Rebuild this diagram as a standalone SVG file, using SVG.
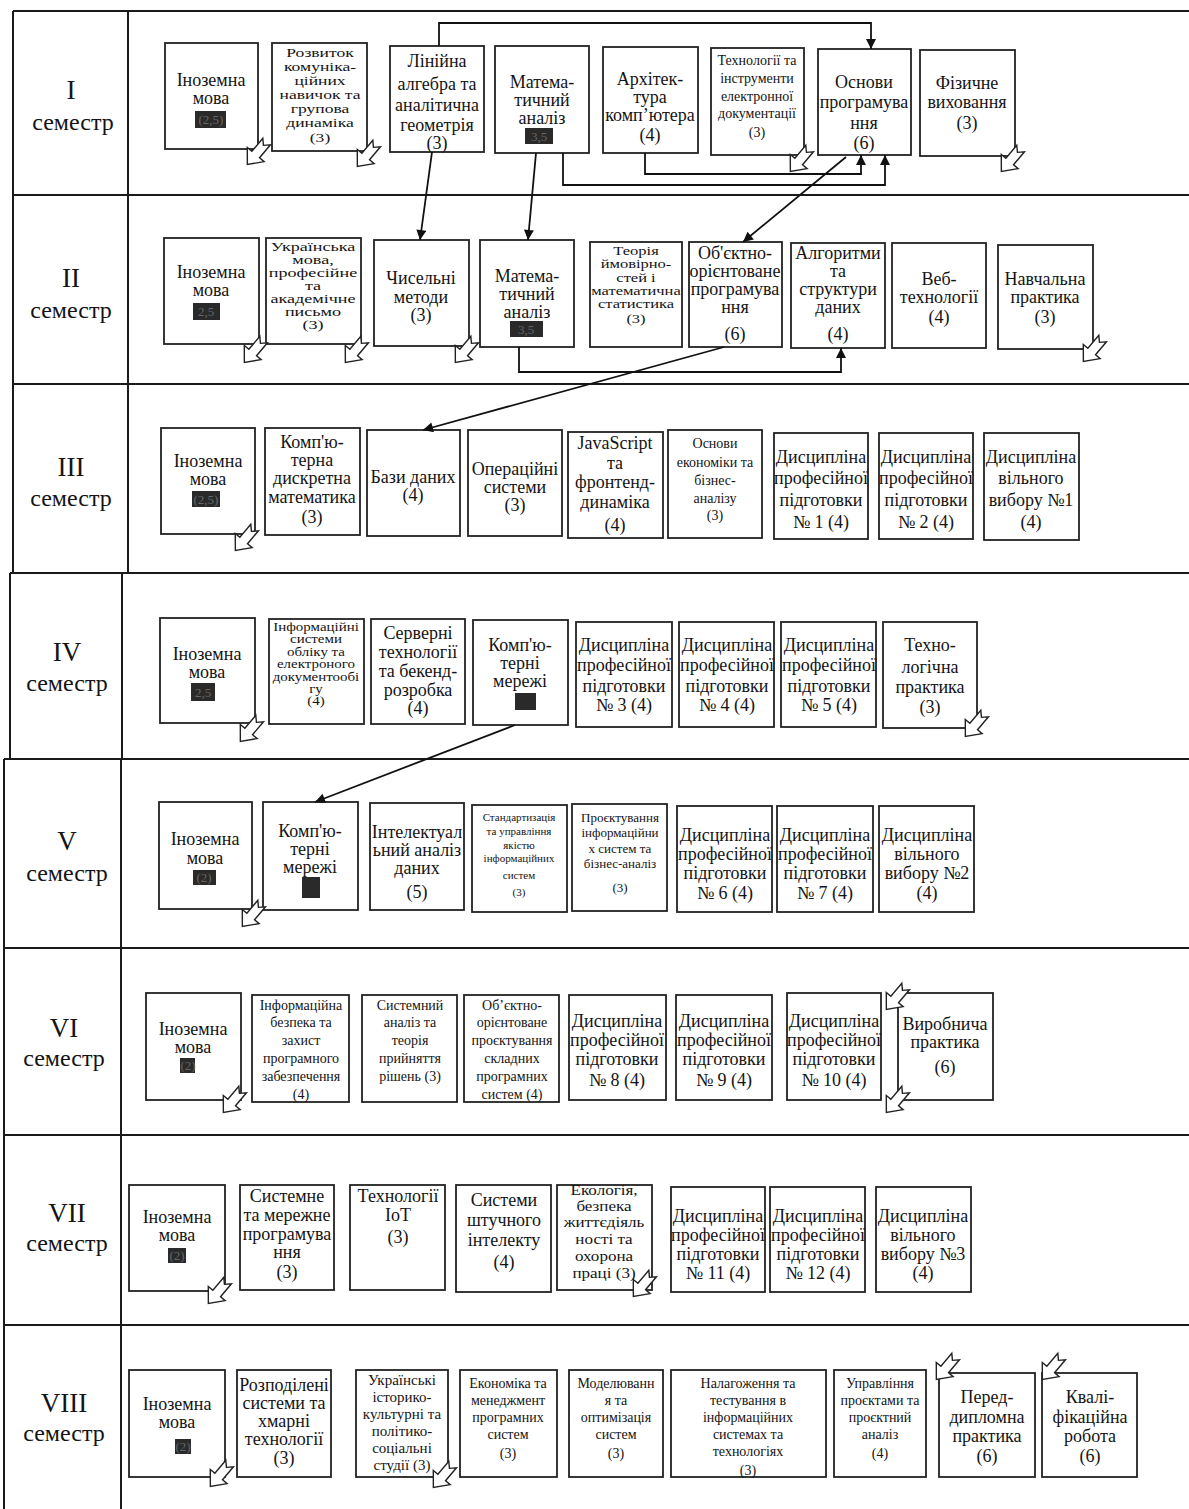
<svg xmlns="http://www.w3.org/2000/svg" width="1189" height="1509" viewBox="0 0 1189 1509">
<style>
.grid{fill:none;stroke:#1a1a1a;stroke-width:2}
.box{fill:#fff;stroke:#222;stroke-width:1.8}
text{font-family:"Liberation Serif","Times New Roman",serif;fill:#141414;text-anchor:middle}
.f18{font-size:18px}.f17{font-size:16.5px}.f15{font-size:15px}.f14{font-size:14px}.f13{font-size:13px}.f11{font-size:11px}
.sem{font-size:24px}.num{font-size:27px}
.bd{fill:#2a2a2a}.bt{fill:#666;font-size:13px}
.con{fill:none;stroke:#111;stroke-width:1.8}
.ca{fill:#fff;stroke:#222;stroke-width:1.4;stroke-linejoin:miter}
</style>
<defs>
<marker id="ah" viewBox="0 0 10 10" refX="10" refY="5" markerWidth="12" markerHeight="10" markerUnits="userSpaceOnUse" orient="auto"><path d="M0,0 L10,5 L0,10 Z" fill="#111"/></marker>
<path id="carrow" class="ca" d="M-5,-15 L0,-10 L5,-15 L5,2 L11,2 L0,15 L-11,2 L-5,2 Z"/>
</defs>

<g id="table">
<line class="grid" x1="13" y1="11" x2="1189" y2="11"/>
<line class="grid" x1="13" y1="195" x2="1189" y2="195"/>
<line class="grid" x1="13" y1="384" x2="1189" y2="384"/>
<line class="grid" x1="10" y1="573" x2="1189" y2="573"/>
<line class="grid" x1="4" y1="759" x2="1189" y2="759"/>
<line class="grid" x1="4" y1="948" x2="1189" y2="948"/>
<line class="grid" x1="4" y1="1135" x2="1189" y2="1135"/>
<line class="grid" x1="4" y1="1325" x2="1189" y2="1325"/>
<line class="grid" x1="13" y1="11" x2="13" y2="573"/>
<line class="grid" x1="10" y1="573" x2="10" y2="759"/>
<line class="grid" x1="4" y1="759" x2="4" y2="1509"/>
<line class="grid" x1="128" y1="11" x2="128" y2="573"/>
<line class="grid" x1="122" y1="573" x2="122" y2="759"/>
<line class="grid" x1="121" y1="759" x2="121" y2="1509"/>
</g>

<g id="labels">
<text class="num" x="71" y="99">I</text><text class="sem" x="73" y="130">семестр</text>
<text class="num" x="71" y="287">II</text><text class="sem" x="71" y="318">семестр</text>
<text class="num" x="71" y="476">III</text><text class="sem" x="71" y="506">семестр</text>
<text class="num" x="67" y="661">IV</text><text class="sem" x="67" y="691">семестр</text>
<text class="num" x="67" y="850">V</text><text class="sem" x="67" y="881">семестр</text>
<text class="num" x="64" y="1037">VI</text><text class="sem" x="64" y="1066">семестр</text>
<text class="num" x="67" y="1222">VII</text><text class="sem" x="67" y="1251">семестр</text>
<text class="num" x="64" y="1412">VIII</text><text class="sem" x="64" y="1441">семестр</text>
</g>

<!-- Semester I -->
<g id="s1-1"><rect class="box" x="165" y="43" width="93" height="106"/><text class="f18"><tspan x="211" y="86">Іноземна</tspan><tspan x="211" y="104">мова</tspan></text><rect class="bd" x="195" y="111" width="31" height="17"/><text class="bt" x="211" y="124">(2,5)</text></g>
<g id="s1-2"><rect class="box" x="272" y="43" width="95" height="108"/><text style="font-size:13.5px" transform="translate(320,0) scale(1.3,1)"><tspan x="0" y="57">Розвиток</tspan><tspan x="0" y="71">комуніка-</tspan><tspan x="0" y="85">ційних</tspan><tspan x="0" y="99">навичок та</tspan><tspan x="0" y="113">групова</tspan><tspan x="0" y="127">динаміка</tspan><tspan x="0" y="142">(3)</tspan></text></g>
<g id="s1-3"><rect class="box" x="390" y="46" width="94" height="106"/><text class="f18"><tspan x="437" y="67">Лінійна</tspan><tspan x="437" y="90">алгебра та</tspan><tspan x="437" y="111">аналітична</tspan><tspan x="437" y="131">геометрія</tspan><tspan x="437" y="149">(3)</tspan></text></g>
<g id="s1-4"><rect class="box" x="495" y="46" width="94" height="107"/><text class="f18"><tspan x="542" y="88">Матема-</tspan><tspan x="542" y="106">тичний</tspan><tspan x="542" y="124">аналіз</tspan></text><rect class="bd" x="525" y="128" width="28" height="16"/><text class="bt" x="539" y="141">3,5</text></g>
<g id="s1-5"><rect class="box" x="603" y="47" width="95" height="106"/><text class="f18"><tspan x="650" y="85">Архітек-</tspan><tspan x="650" y="103">тура</tspan><tspan x="650" y="121">комп’ютера</tspan><tspan x="650" y="141">(4)</tspan></text></g>
<g id="s1-6"><rect class="box" x="711" y="48" width="93" height="107"/><text class="f14"><tspan x="757" y="65">Технології та</tspan><tspan x="757" y="83">інструменти</tspan><tspan x="757" y="101">електронної</tspan><tspan x="757" y="118">документації</tspan><tspan x="757" y="137">(3)</tspan></text></g>
<g id="s1-7"><rect class="box" x="818" y="49" width="93" height="106"/><text class="f18"><tspan x="864" y="88">Основи</tspan><tspan x="864" y="108">програмува</tspan><tspan x="864" y="129">ння</tspan><tspan x="864" y="149">(6)</tspan></text></g>
<g id="s1-8"><rect class="box" x="920" y="50" width="95" height="106"/><text class="f18"><tspan x="967" y="89">Фізичне</tspan><tspan x="967" y="108">виховання</tspan><tspan x="967" y="129">(3)</tspan></text></g>

<!-- Semester II -->
<g id="s2-1"><rect class="box" x="164" y="238" width="95" height="106"/><text class="f18"><tspan x="211" y="278">Іноземна</tspan><tspan x="211" y="296">мова</tspan></text><rect class="bd" x="193" y="303" width="27" height="17"/><text class="bt" x="206" y="316">2,5</text></g>
<g id="s2-2"><rect class="box" x="266" y="238" width="95" height="106"/><text style="font-size:12.5px" transform="translate(313,0) scale(1.45,1)"><tspan x="0" y="251">Українська</tspan><tspan x="0" y="264">мова,</tspan><tspan x="0" y="277">професійне</tspan><tspan x="0" y="290">та</tspan><tspan x="0" y="303">академічне</tspan><tspan x="0" y="316">письмо</tspan><tspan x="0" y="329">(3)</tspan></text></g>
<g id="s2-3"><rect class="box" x="374" y="240" width="95" height="106"/><text class="f18"><tspan x="421" y="284">Чисельні</tspan><tspan x="421" y="303">методи</tspan><tspan x="421" y="321">(3)</tspan></text></g>
<g id="s2-4"><rect class="box" x="480" y="240" width="94" height="107"/><text class="f18"><tspan x="527" y="282">Матема-</tspan><tspan x="527" y="300">тичний</tspan><tspan x="527" y="318">аналіз</tspan></text><rect class="bd" x="510" y="321" width="33" height="16"/><text class="bt" x="526" y="334">3,5</text></g>
<g id="s2-5"><rect class="box" x="590" y="242" width="92" height="105"/><text style="font-size:13px" transform="translate(636,0) scale(1.27,1)"><tspan x="0" y="255">Теорія</tspan><tspan x="0" y="268">ймовірно-</tspan><tspan x="0" y="282">стей і</tspan><tspan x="0" y="295">математична</tspan><tspan x="0" y="308">статистика</tspan><tspan x="0" y="323">(3)</tspan></text></g>
<g id="s2-6"><rect class="box" x="689" y="242" width="93" height="105"/><text class="f18"><tspan x="735" y="259">Об'єктно-</tspan><tspan x="735" y="277">орієнтоване</tspan><tspan x="735" y="295">програмува</tspan><tspan x="735" y="313">ння</tspan><tspan x="735" y="340">(6)</tspan></text></g>
<g id="s2-7"><rect class="box" x="791" y="243" width="94" height="105"/><text class="f18"><tspan x="838" y="259">Алгоритми</tspan><tspan x="838" y="277">та</tspan><tspan x="838" y="295">структури</tspan><tspan x="838" y="313">даних</tspan><tspan x="838" y="340">(4)</tspan></text></g>
<g id="s2-8"><rect class="box" x="892" y="243" width="94" height="105"/><text class="f18"><tspan x="939" y="285">Веб-</tspan><tspan x="939" y="303">технології</tspan><tspan x="939" y="323">(4)</tspan></text></g>
<g id="s2-9"><rect class="box" x="998" y="245" width="95" height="104"/><text class="f18"><tspan x="1045" y="285">Навчальна</tspan><tspan x="1045" y="303">практика</tspan><tspan x="1045" y="323">(3)</tspan></text></g>

<!-- Semester III -->
<g id="s3-1"><rect class="box" x="161" y="428" width="94" height="106"/><text class="f18"><tspan x="208" y="467">Іноземна</tspan><tspan x="208" y="485">мова</tspan></text><rect class="bd" x="192" y="491" width="28" height="16"/><text class="bt" x="206" y="504">(2,5)</text></g>
<g id="s3-2"><rect class="box" x="265" y="428" width="95" height="107"/><text class="f18"><tspan x="312" y="448">Комп'ю-</tspan><tspan x="312" y="466">терна</tspan><tspan x="312" y="484">дискретна</tspan><tspan x="312" y="503">математика</tspan><tspan x="312" y="523">(3)</tspan></text></g>
<g id="s3-3"><rect class="box" x="367" y="430" width="93" height="106"/><text class="f18"><tspan x="413" y="483">Бази даних</tspan><tspan x="413" y="501">(4)</tspan></text></g>
<g id="s3-4"><rect class="box" x="468" y="430" width="94" height="106"/><text class="f18"><tspan x="515" y="475">Операційні</tspan><tspan x="515" y="493">системи</tspan><tspan x="515" y="511">(3)</tspan></text></g>
<g id="s3-5"><rect class="box" x="568" y="432" width="95" height="106"/><text class="f18"><tspan x="615" y="449">JavaScript</tspan><tspan x="615" y="469">та</tspan><tspan x="615" y="488">фронтенд-</tspan><tspan x="615" y="508">динаміка</tspan><tspan x="615" y="531">(4)</tspan></text></g>
<g id="s3-6"><rect class="box" x="668" y="430" width="94" height="108"/><text class="f14"><tspan x="715" y="448">Основи</tspan><tspan x="715" y="467">економіки та</tspan><tspan x="715" y="485">бізнес-</tspan><tspan x="715" y="503">аналізу</tspan><tspan x="715" y="520">(3)</tspan></text></g>
<g id="s3-7"><rect class="box" x="774" y="433" width="94" height="106"/><text class="f18"><tspan x="821" y="463">Дисципліна</tspan><tspan x="821" y="484">професійної</tspan><tspan x="821" y="506">підготовки</tspan><tspan x="821" y="528">№ 1 (4)</tspan></text></g>
<g id="s3-8"><rect class="box" x="879" y="433" width="94" height="106"/><text class="f18"><tspan x="926" y="463">Дисципліна</tspan><tspan x="926" y="484">професійної</tspan><tspan x="926" y="506">підготовки</tspan><tspan x="926" y="528">№ 2 (4)</tspan></text></g>
<g id="s3-9"><rect class="box" x="984" y="433" width="95" height="107"/><text class="f18"><tspan x="1031" y="463">Дисципліна</tspan><tspan x="1031" y="484">вільного</tspan><tspan x="1031" y="506">вибору №1</tspan><tspan x="1031" y="528">(4)</tspan></text></g>

<!-- Semester IV -->
<g id="s4-1"><rect class="box" x="160" y="618" width="95" height="105"/><text class="f18"><tspan x="207" y="660">Іноземна</tspan><tspan x="207" y="678">мова</tspan></text><rect class="bd" x="191" y="683" width="24" height="18"/><text class="bt" x="203" y="697">2,5</text></g>
<g id="s4-2"><rect class="box" x="269" y="619" width="95" height="105"/><text style="font-size:11.5px" transform="translate(316,0) scale(1.3,1)"><tspan x="0" y="631">Інформаційні</tspan><tspan x="0" y="643">системи</tspan><tspan x="0" y="656">обліку та</tspan><tspan x="0" y="668">електроного</tspan><tspan x="0" y="681">документообі</tspan><tspan x="0" y="693">гу</tspan><tspan x="0" y="705">(4)</tspan></text></g>
<g id="s4-3"><rect class="box" x="371" y="619" width="94" height="105"/><text class="f18"><tspan x="418" y="639">Серверні</tspan><tspan x="418" y="658">технології</tspan><tspan x="418" y="677">та бекенд-</tspan><tspan x="418" y="696">розробка</tspan><tspan x="418" y="714">(4)</tspan></text></g>
<g id="s4-4"><rect class="box" x="473" y="620" width="95" height="105"/><text class="f18"><tspan x="520" y="651">Комп'ю-</tspan><tspan x="520" y="669">терні</tspan><tspan x="520" y="687">мережі</tspan></text><rect class="bd" x="515" y="693" width="21" height="17"/></g>
<g id="s4-5"><rect class="box" x="576" y="622" width="96" height="105"/><text class="f18"><tspan x="624" y="651">Дисципліна</tspan><tspan x="624" y="671">професійної</tspan><tspan x="624" y="692">підготовки</tspan><tspan x="624" y="711">№ 3 (4)</tspan></text></g>
<g id="s4-6"><rect class="box" x="679" y="622" width="95" height="105"/><text class="f18"><tspan x="727" y="651">Дисципліна</tspan><tspan x="727" y="671">професійної</tspan><tspan x="727" y="692">підготовки</tspan><tspan x="727" y="711">№ 4 (4)</tspan></text></g>
<g id="s4-7"><rect class="box" x="781" y="622" width="95" height="105"/><text class="f18"><tspan x="829" y="651">Дисципліна</tspan><tspan x="829" y="671">професійної</tspan><tspan x="829" y="692">підготовки</tspan><tspan x="829" y="711">№ 5 (4)</tspan></text></g>
<g id="s4-8"><rect class="box" x="883" y="622" width="94" height="106"/><text class="f18"><tspan x="930" y="651">Техно-</tspan><tspan x="930" y="673">логічна</tspan><tspan x="930" y="693">практика</tspan><tspan x="930" y="713">(3)</tspan></text></g>

<!-- Semester V -->
<g id="s5-1"><rect class="box" x="159" y="802" width="93" height="107"/><text class="f18"><tspan x="205" y="845">Іноземна</tspan><tspan x="205" y="864">мова</tspan></text><rect class="bd" x="193" y="870" width="23" height="15"/><text class="bt" x="204" y="882">(2)</text></g>
<g id="s5-2"><rect class="box" x="263" y="802" width="95" height="108"/><text class="f18"><tspan x="310" y="837">Комп'ю-</tspan><tspan x="310" y="855">терні</tspan><tspan x="310" y="873">мережі</tspan></text><rect class="bd" x="302" y="877" width="18" height="21"/></g>
<g id="s5-3"><rect class="box" x="370" y="803" width="94" height="107"/><text class="f18"><tspan x="417" y="838">Інтелектуал</tspan><tspan x="417" y="856">ьний аналіз</tspan><tspan x="417" y="874">даних</tspan><tspan x="417" y="898">(5)</tspan></text></g>
<g id="s5-4"><rect class="box" x="472" y="805" width="95" height="107"/><text class="f11"><tspan x="519" y="821">Стандартизація</tspan><tspan x="519" y="835">та управління</tspan><tspan x="519" y="849">якістю</tspan><tspan x="519" y="862">інформаційних</tspan><tspan x="519" y="879">систем</tspan><tspan x="519" y="896">(3)</tspan></text></g>
<g id="s5-5"><rect class="box" x="572" y="804" width="95" height="107"/><text class="f13"><tspan x="620" y="822">Проєктування</tspan><tspan x="620" y="837">інформаційни</tspan><tspan x="620" y="853">х систем та</tspan><tspan x="620" y="868">бізнес-аналіз</tspan><tspan x="620" y="892">(3)</tspan></text></g>
<g id="s5-6"><rect class="box" x="677" y="806" width="95" height="106"/><text class="f18"><tspan x="725" y="841">Дисципліна</tspan><tspan x="725" y="860">професійної</tspan><tspan x="725" y="879">підготовки</tspan><tspan x="725" y="899">№ 6 (4)</tspan></text></g>
<g id="s5-7"><rect class="box" x="777" y="806" width="96" height="106"/><text class="f18"><tspan x="825" y="841">Дисципліна</tspan><tspan x="825" y="860">професійної</tspan><tspan x="825" y="879">підготовки</tspan><tspan x="825" y="899">№ 7 (4)</tspan></text></g>
<g id="s5-8"><rect class="box" x="879" y="806" width="95" height="106"/><text class="f18"><tspan x="927" y="841">Дисципліна</tspan><tspan x="927" y="860">вільного</tspan><tspan x="927" y="879">вибору №2</tspan><tspan x="927" y="899">(4)</tspan></text></g>

<!-- Semester VI -->
<g id="s6-1"><rect class="box" x="146" y="993" width="95" height="107"/><text class="f18"><tspan x="193" y="1035">Іноземна</tspan><tspan x="193" y="1053">мова</tspan></text><rect class="bd" x="180" y="1058" width="15" height="15"/><text class="bt" x="188" y="1070">(2)</text></g>
<g id="s6-2"><rect class="box" x="252" y="995" width="97" height="107"/><text class="f14"><tspan x="301" y="1010">Інформаційна</tspan><tspan x="301" y="1027">безпека та</tspan><tspan x="301" y="1045">захист</tspan><tspan x="301" y="1063">програмного</tspan><tspan x="301" y="1081">забезпечення</tspan><tspan x="301" y="1099">(4)</tspan></text></g>
<g id="s6-3"><rect class="box" x="362" y="995" width="95" height="107"/><text class="f14"><tspan x="410" y="1010">Системний</tspan><tspan x="410" y="1027">аналіз та</tspan><tspan x="410" y="1045">теорія</tspan><tspan x="410" y="1063">прийняття</tspan><tspan x="410" y="1081">рішень (3)</tspan></text></g>
<g id="s6-4"><rect class="box" x="464" y="995" width="95" height="107"/><text class="f14"><tspan x="512" y="1010">Об’єктно-</tspan><tspan x="512" y="1027">орієнтоване</tspan><tspan x="512" y="1045">проєктування</tspan><tspan x="512" y="1063">складних</tspan><tspan x="512" y="1081">програмних</tspan><tspan x="512" y="1099">систем (4)</tspan></text></g>
<g id="s6-5"><rect class="box" x="569" y="995" width="97" height="105"/><text class="f18"><tspan x="617" y="1027">Дисципліна</tspan><tspan x="617" y="1046">професійної</tspan><tspan x="617" y="1065">підготовки</tspan><tspan x="617" y="1086">№ 8 (4)</tspan></text></g>
<g id="s6-6"><rect class="box" x="676" y="995" width="96" height="105"/><text class="f18"><tspan x="724" y="1027">Дисципліна</tspan><tspan x="724" y="1046">професійної</tspan><tspan x="724" y="1065">підготовки</tspan><tspan x="724" y="1086">№ 9 (4)</tspan></text></g>
<g id="s6-7"><rect class="box" x="787" y="993" width="94" height="107"/><text class="f18"><tspan x="834" y="1027">Дисципліна</tspan><tspan x="834" y="1046">професійної</tspan><tspan x="834" y="1065">підготовки</tspan><tspan x="834" y="1086">№ 10 (4)</tspan></text></g>
<g id="s6-8"><rect class="box" x="898" y="993" width="95" height="107"/><text class="f18"><tspan x="945" y="1030">Виробнича</tspan><tspan x="945" y="1048">практика</tspan><tspan x="945" y="1073">(6)</tspan></text></g>

<!-- Semester VII -->
<g id="s7-1"><rect class="box" x="129" y="1185" width="96" height="106"/><text class="f18"><tspan x="177" y="1223">Іноземна</tspan><tspan x="177" y="1241">мова</tspan></text><rect class="bd" x="168" y="1248" width="18" height="15"/><text class="bt" x="177" y="1260">(2)</text></g>
<g id="s7-2"><rect class="box" x="240" y="1185" width="94" height="105"/><text class="f18"><tspan x="287" y="1202">Системне</tspan><tspan x="287" y="1221">та мережне</tspan><tspan x="287" y="1240">програмува</tspan><tspan x="287" y="1258">ння</tspan><tspan x="287" y="1278">(3)</tspan></text></g>
<g id="s7-3"><rect class="box" x="350" y="1185" width="95" height="105"/><text class="f18"><tspan x="398" y="1202">Технології</tspan><tspan x="398" y="1221">IoT</tspan><tspan x="398" y="1243">(3)</tspan></text></g>
<g id="s7-4"><rect class="box" x="456" y="1185" width="95" height="107"/><text class="f18"><tspan x="504" y="1206">Системи</tspan><tspan x="504" y="1226">штучного</tspan><tspan x="504" y="1246">інтелекту</tspan><tspan x="504" y="1268">(4)</tspan></text></g>
<g id="s7-5"><rect class="box" x="557" y="1185" width="95" height="105"/><text style="font-size:15.5px" transform="translate(604,0) scale(1.1,1)"><tspan x="0" y="1195">Екологія,</tspan><tspan x="0" y="1211">безпека</tspan><tspan x="0" y="1227">життєдіяль</tspan><tspan x="0" y="1244">ності та</tspan><tspan x="0" y="1261">охорона</tspan><tspan x="0" y="1278">праці (3)</tspan></text></g>
<g id="s7-6"><rect class="box" x="671" y="1187" width="94" height="105"/><text class="f18"><tspan x="718" y="1222">Дисципліна</tspan><tspan x="718" y="1241">професійної</tspan><tspan x="718" y="1260">підготовки</tspan><tspan x="718" y="1279">№ 11 (4)</tspan></text></g>
<g id="s7-7"><rect class="box" x="770" y="1187" width="95" height="105"/><text class="f18"><tspan x="818" y="1222">Дисципліна</tspan><tspan x="818" y="1241">професійної</tspan><tspan x="818" y="1260">підготовки</tspan><tspan x="818" y="1279">№ 12 (4)</tspan></text></g>
<g id="s7-8"><rect class="box" x="876" y="1187" width="95" height="105"/><text class="f18"><tspan x="923" y="1222">Дисципліна</tspan><tspan x="923" y="1241">вільного</tspan><tspan x="923" y="1260">вибору №3</tspan><tspan x="923" y="1279">(4)</tspan></text></g>

<!-- Semester VIII -->
<g id="s8-1"><rect class="box" x="129" y="1370" width="96" height="107"/><text class="f18"><tspan x="177" y="1410">Іноземна</tspan><tspan x="177" y="1428">мова</tspan></text><rect class="bd" x="175" y="1439" width="16" height="15"/><text class="bt" x="183" y="1451">(2)</text></g>
<g id="s8-2"><rect class="box" x="237" y="1370" width="94" height="107"/><text class="f18"><tspan x="284" y="1391">Розподілені</tspan><tspan x="284" y="1409">системи та</tspan><tspan x="284" y="1427">хмарні</tspan><tspan x="284" y="1445">технології</tspan><tspan x="284" y="1464">(3)</tspan></text></g>
<g id="s8-3"><rect class="box" x="356" y="1370" width="92" height="107"/><text class="f15"><tspan x="402" y="1385">Українські</tspan><tspan x="402" y="1402">історико-</tspan><tspan x="402" y="1419">культурні та</tspan><tspan x="402" y="1436">політико-</tspan><tspan x="402" y="1453">соціальні</tspan><tspan x="402" y="1470">студії (3)</tspan></text></g>
<g id="s8-4"><rect class="box" x="460" y="1370" width="97" height="107"/><text class="f14"><tspan x="508" y="1388">Економіка та</tspan><tspan x="508" y="1405">менеджмент</tspan><tspan x="508" y="1422">програмних</tspan><tspan x="508" y="1439">систем</tspan><tspan x="508" y="1458">(3)</tspan></text></g>
<g id="s8-5"><rect class="box" x="569" y="1370" width="94" height="107"/><text class="f14"><tspan x="616" y="1388">Моделюванн</tspan><tspan x="616" y="1405">я та</tspan><tspan x="616" y="1422">оптимізація</tspan><tspan x="616" y="1439">систем</tspan><tspan x="616" y="1458">(3)</tspan></text></g>
<g id="s8-6"><rect class="box" x="671" y="1370" width="155" height="107"/><text class="f14"><tspan x="748" y="1388">Налагоження та</tspan><tspan x="748" y="1405">тестування в</tspan><tspan x="748" y="1422">інформаційних</tspan><tspan x="748" y="1439">системах та</tspan><tspan x="748" y="1456">технологіях</tspan><tspan x="748" y="1475">(3)</tspan></text></g>
<g id="s8-7"><rect class="box" x="834" y="1370" width="92" height="107"/><text class="f14"><tspan x="880" y="1388">Управління</tspan><tspan x="880" y="1405">проєктами та</tspan><tspan x="880" y="1422">проєктний</tspan><tspan x="880" y="1439">аналіз</tspan><tspan x="880" y="1458">(4)</tspan></text></g>
<g id="s8-8"><rect class="box" x="939" y="1373" width="96" height="104"/><text class="f18"><tspan x="987" y="1403">Перед-</tspan><tspan x="987" y="1423">дипломна</tspan><tspan x="987" y="1442">практика</tspan><tspan x="987" y="1462">(6)</tspan></text></g>
<g id="s8-9"><rect class="box" x="1042" y="1373" width="95" height="104"/><text class="f18"><tspan x="1090" y="1403">Квалі-</tspan><tspan x="1090" y="1423">фікаційна</tspan><tspan x="1090" y="1442">робота</tspan><tspan x="1090" y="1462">(6)</tspan></text></g>

<g id="corner-arrows">
<use href="#carrow" transform="translate(257,153) rotate(40)"/>
<use href="#carrow" transform="translate(367,155) rotate(40)"/>
<use href="#carrow" transform="translate(800,160) rotate(40)"/>
<use href="#carrow" transform="translate(1011,160) rotate(40)"/>
<use href="#carrow" transform="translate(254,351) rotate(40)"/>
<use href="#carrow" transform="translate(355,351) rotate(40)"/>
<use href="#carrow" transform="translate(465,351) rotate(40)"/>
<use href="#carrow" transform="translate(1093,350) rotate(40)"/>
<use href="#carrow" transform="translate(245,539) rotate(40)"/>
<use href="#carrow" transform="translate(250,730) rotate(40)"/>
<use href="#carrow" transform="translate(975,725) rotate(40)"/>
<use href="#carrow" transform="translate(252,915) rotate(40)"/>
<use href="#carrow" transform="translate(233,1101) rotate(40)"/>
<use href="#carrow" transform="translate(896,998) rotate(40)"/>
<use href="#carrow" transform="translate(896,1101) rotate(40)"/>
<use href="#carrow" transform="translate(218,1292) rotate(40)"/>
<use href="#carrow" transform="translate(643,1285) rotate(40)"/>
<use href="#carrow" transform="translate(220,1475) rotate(40)"/>
<use href="#carrow" transform="translate(443,1476) rotate(40)"/>
<use href="#carrow" transform="translate(946,1368) rotate(40)"/>
<use href="#carrow" transform="translate(1052,1368) rotate(40)"/>
</g>

<g id="connectors">
<path class="con" d="M439,46 V23 H871 V49" marker-end="url(#ah)"/>
<path class="con" d="M645,153 V174 H861 V155" marker-end="url(#ah)"/>
<path class="con" d="M563,153 V185 H885 V155" marker-end="url(#ah)"/>
<path class="con" d="M846,157 L743,242" marker-end="url(#ah)"/>
<path class="con" d="M432,152 L420,240" marker-end="url(#ah)"/>
<path class="con" d="M536,153 L528,240" marker-end="url(#ah)"/>
<path class="con" d="M519,347 V372 H841 V348" marker-end="url(#ah)"/>
<path class="con" d="M724,347 L423,430" marker-end="url(#ah)"/>
<path class="con" d="M515,725 L315,802" marker-end="url(#ah)"/>
</g>
</svg>
